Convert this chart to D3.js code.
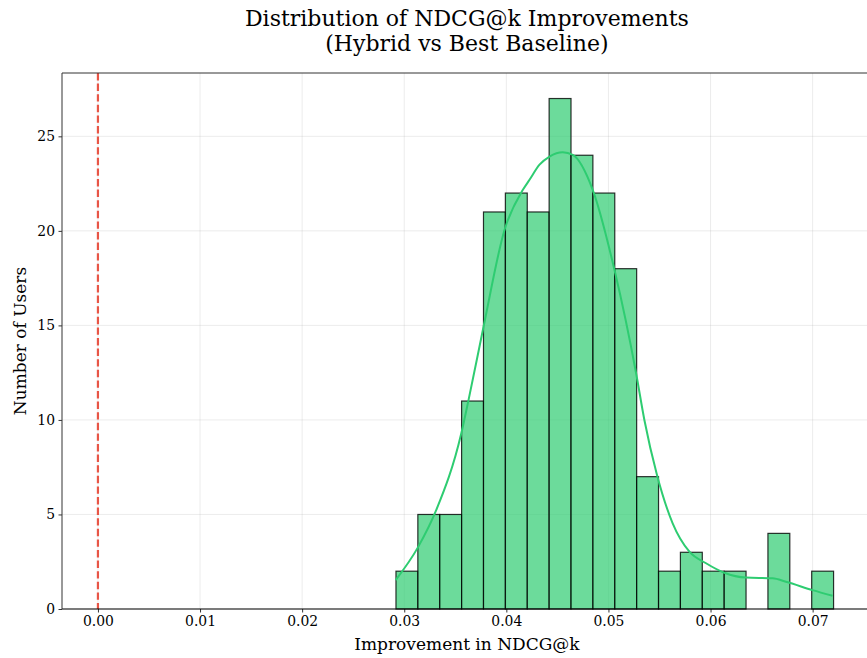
<!DOCTYPE html>
<html>
<head>
<meta charset="utf-8">
<script src="https://cdn.jsdelivr.net/npm/d3@7/dist/d3.min.js"></script>
<style>
  html, body { margin: 0; padding: 0; background: #fff; overflow: hidden; }
  svg { display: block; font-family: "DejaVu Serif", serif; }
</style>
</head>
<body>
<svg id="chart" width="867" height="658"></svg>
<script>
// Histogram of per-user NDCG@k improvements (20 equal-width bins)
const binStart = 0.02919;
const binEnd = 0.07205;
const binCounts = [2, 5, 5, 11, 21, 22, 21, 27, 24, 22, 18, 7, 2, 3, 2, 2, 0, 4, 0, 2];

// Kernel density estimate, scaled to counts
const kdeX = [0.02916, 0.03134, 0.03314, 0.03559, 0.0363, 0.03777, 0.03982, 0.04162, 0.04227, 0.04325,
              0.04423, 0.04553, 0.04651, 0.04846, 0.05059, 0.05271, 0.05352, 0.05475, 0.05629, 0.05793,
              0.05956, 0.06135, 0.06347, 0.06608, 0.06738, 0.06999, 0.07195];
const kdeY = [1.53, 3.26, 5.24, 9.3, 11.06, 14.94, 20.05, 22.17, 22.7, 23.5,
              23.93, 24.16, 24.02, 22.17, 17.94, 12.47, 10.0, 7.1, 4.53, 3.03,
              2.42, 1.92, 1.66, 1.62, 1.44, 1.0, 0.70];

const xTicks = [0.00, 0.01, 0.02, 0.03, 0.04, 0.05, 0.06, 0.07];
const yTicks = [0, 5, 10, 15, 20, 25];
const baselineX = 0.0;

const titleLines = ["Distribution of NDCG@k Improvements", "(Hybrid vs Best Baseline)"];
const xLabel = "Improvement in NDCG@k";
const yLabel = "Number of Users";

(function draw() {
  const svg = d3.select("#chart");

  // Plot area (the frame runs slightly past the right edge of the page)
  const pLeft = 62, pTop = 73, pBottom = 609;
  const pxPerUnit = 10210;
  const xMin = -0.00352, xMax = 0.0758;
  const x = d3.scaleLinear().domain([xMin, xMax]).range([pLeft, pLeft + (xMax - xMin) * pxPerUnit]);
  const y = d3.scaleLinear().domain([0, 28.35]).range([pBottom, pTop]);
  const pRight = x(xMax);

  // Grid
  const grid = svg.append("g").attr("stroke", "#b0b0b0").attr("stroke-opacity", 0.3).attr("stroke-width", 0.8);
  grid.selectAll("line.gx").data(xTicks).join("line").attr("class", "gx")
    .attr("x1", d => x(d)).attr("x2", d => x(d)).attr("y1", pTop).attr("y2", pBottom);
  grid.selectAll("line.gy").data(yTicks).join("line").attr("class", "gy")
    .attr("x1", pLeft).attr("x2", pRight).attr("y1", d => y(d)).attr("y2", d => y(d));

  // Bars
  const binW = (binEnd - binStart) / binCounts.length;
  const bins = binCounts.map((c, i) => ({ x0: binStart + i * binW, x1: binStart + (i + 1) * binW, c }));
  svg.append("g").selectAll("rect").data(bins.filter(b => b.c > 0)).join("rect")
    .attr("x", d => x(d.x0))
    .attr("width", d => x(d.x1) - x(d.x0))
    .attr("y", d => y(d.c))
    .attr("height", d => y(0) - y(d.c))
    .attr("fill", "#2ecc71").attr("fill-opacity", 0.7)
    .attr("stroke", "#000").attr("stroke-opacity", 0.8).attr("stroke-width", 1.2);

  // KDE curve
  const kde = kdeX.map((v, i) => [v, kdeY[i]]);
  svg.append("path").datum(kde)
    .attr("fill", "none").attr("stroke", "#2ecc71").attr("stroke-width", 2)
    .attr("d", d3.line().x(d => x(d[0])).y(d => y(d[1])).curve(d3.curveMonotoneX));

  // Zero-improvement reference line
  svg.append("line")
    .attr("x1", x(baselineX)).attr("x2", x(baselineX)).attr("y1", pTop).attr("y2", pBottom)
    .attr("stroke", "#e74c3c").attr("stroke-width", 2.2).attr("stroke-opacity", 0.95)
    .attr("stroke-dasharray", "7.4,3.2");

  // Axes
  const xAxis = svg.append("g").attr("transform", `translate(0,${pBottom})`)
    .call(d3.axisBottom(x).tickValues(xTicks).tickFormat(d3.format(".2f")).tickSize(3.5).tickPadding(3.5));
  const yAxis = svg.append("g").attr("transform", `translate(${pLeft},0)`)
    .call(d3.axisLeft(y).tickValues(yTicks).tickFormat(d3.format("d")).tickSize(3.5).tickPadding(3.5));
  [xAxis, yAxis].forEach(a => {
    a.select(".domain").remove();
    a.selectAll("text").attr("font-family", "DejaVu Serif").attr("font-size", 13.9).attr("fill", "#000");
    a.selectAll("line").attr("stroke", "#000").attr("stroke-width", 0.8);
  });

  // Frame
  const frame = svg.append("g").attr("fill", "none");
  frame.append("line").attr("x1", pLeft).attr("x2", pRight).attr("y1", pBottom).attr("y2", pBottom).attr("stroke", "#000").attr("stroke-width", 1);
  frame.append("line").attr("x1", pLeft).attr("x2", pRight).attr("y1", pTop).attr("y2", pTop).attr("stroke", "#333").attr("stroke-width", 1);
  frame.append("line").attr("x1", pLeft).attr("x2", pLeft).attr("y1", pTop).attr("y2", pBottom).attr("stroke", "#333").attr("stroke-width", 1);
  frame.append("line").attr("x1", pRight).attr("x2", pRight).attr("y1", pTop).attr("y2", pBottom).attr("stroke", "#333").attr("stroke-width", 1);

  // Labels
  const cx = (pLeft + pRight) / 2;
  svg.append("text").attr("text-anchor", "middle")
    .attr("font-size", 22).attr("fill", "#000")
    .selectAll("tspan").data(titleLines).join("tspan")
    .attr("x", cx).attr("y", (d, i) => 26 + i * 24.5).text(d => d);

  svg.append("text").attr("x", cx).attr("y", 650).attr("text-anchor", "middle")
    .attr("font-size", 17).attr("fill", "#000").text(xLabel);

  svg.append("text").attr("transform", `translate(26,${(pTop + pBottom) / 2}) rotate(-90)`)
    .attr("text-anchor", "middle").attr("font-size", 17).attr("fill", "#000").text(yLabel);
})();
</script>
</body>
</html>
